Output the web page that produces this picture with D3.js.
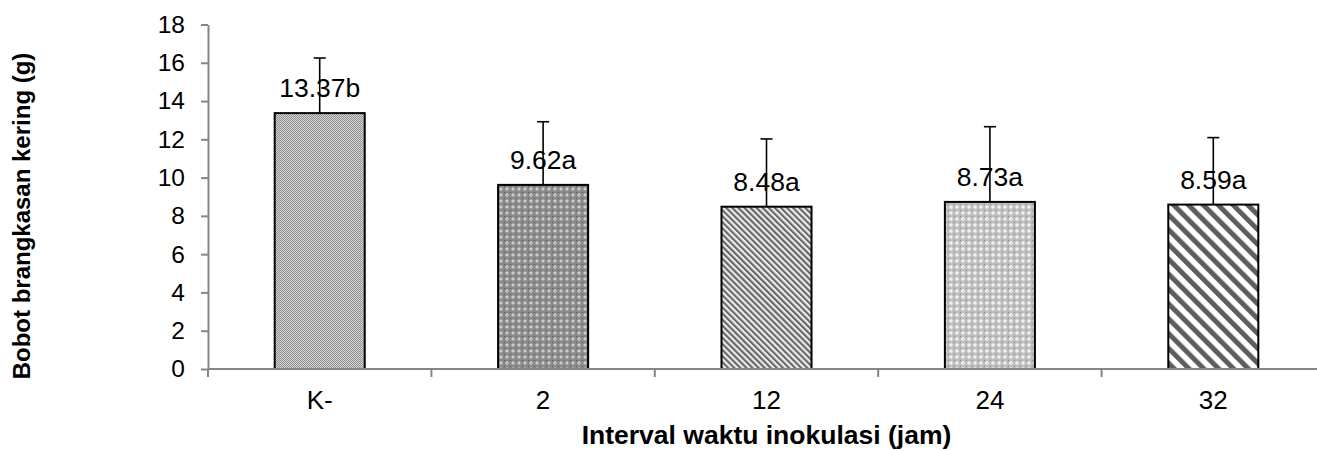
<!DOCTYPE html>
<html><head><meta charset="utf-8">
<script src="https://cdn.jsdelivr.net/npm/d3@7"></script>
<style>
html,body{margin:0;padding:0;background:#fff;}
svg{display:block;font-family:"Liberation Sans",Arial,sans-serif;}
</style></head>
<body>
<svg id="chart" width="1317" height="451"></svg>
<script>
const categories = ["K-", "2", "12", "24", "32"];
const means = [13.37, 9.62, 8.48, 8.73, 8.59];
const errors = [2.88, 3.30, 3.54, 3.93, 3.50];
const letters = ["b", "a", "a", "a", "a"];
const yTicks = [0, 2, 4, 6, 8, 10, 12, 14, 16, 18];
const xTitle = "Interval waktu inokulasi (jam)";
const yTitle = "Bobot brangkasan kering (g)";

(function () {
const svg = d3.select("#chart");
const mLeft = 208, mRight = 1325, mTop = 24.5, mBottom = 369;

const x = d3.scaleBand().domain(categories).range([mLeft, mRight])
  .paddingInner(0.597).paddingOuter(0.2985);
const y = d3.scaleLinear().domain([0, 18]).range([mBottom, mTop]);

// patterns
const defs = svg.append("defs");
let p = defs.append("pattern").attr("id", "pat0").attr("patternUnits", "userSpaceOnUse")
  .attr("width", 2).attr("height", 2);
p.append("rect").attr("width", 2).attr("height", 2).attr("fill", "#d6d6d6");
p.append("rect").attr("width", 1).attr("height", 1).attr("fill", "#8e8e8e");
p.append("rect").attr("x", 1).attr("y", 1).attr("width", 1).attr("height", 1).attr("fill", "#8e8e8e");
p = defs.append("pattern").attr("id", "pat1").attr("patternUnits", "userSpaceOnUse")
  .attr("width", 6).attr("height", 6);
p.append("rect").attr("width", 6).attr("height", 6).attr("fill", "#8a8a8a");
p.append("path").attr("d", "M3,1 L5,3 L3,5 L1,3 Z").attr("fill", "#c4c4c4");
p.append("rect").attr("x", 2.5).attr("y", 2.5).attr("width", 1).attr("height", 1).attr("fill", "#e8e8e8");
p.append("rect").attr("x", 0).attr("y", 0).attr("width", 1).attr("height", 1).attr("fill", "#555");
p = defs.append("pattern").attr("id", "pat2").attr("patternUnits", "userSpaceOnUse")
  .attr("width", 4.3).attr("height", 10).attr("patternTransform", "rotate(-45)");
p.append("rect").attr("width", 4.3).attr("height", 10).attr("fill", "#ececec");
p.append("rect").attr("width", 2.1).attr("height", 10).attr("fill", "#666");
p = defs.append("pattern").attr("id", "pat3").attr("patternUnits", "userSpaceOnUse")
  .attr("width", 6).attr("height", 6);
p.append("rect").attr("width", 6).attr("height", 6).attr("fill", "#bdbdbd");
p.append("path").attr("d", "M3,0.8 L5.2,3 L3,5.2 L0.8,3 Z").attr("fill", "#ececec");
p.append("rect").attr("x", 2.5).attr("y", 2.5).attr("width", 1).attr("height", 1).attr("fill", "#fff");
p.append("rect").attr("x", 0).attr("y", 0).attr("width", 1).attr("height", 1).attr("fill", "#8a8a8a");
p = defs.append("pattern").attr("id", "pat4").attr("patternUnits", "userSpaceOnUse")
  .attr("width", 10.5).attr("height", 10).attr("patternTransform", "rotate(-45)");
p.append("rect").attr("width", 10.5).attr("height", 10).attr("fill", "#ffffff");
p.append("rect").attr("width", 5).attr("height", 10).attr("fill", "#5e5e5e");

// bars
svg.append("g").selectAll("rect").data(categories).join("rect")
  .attr("x", d => x(d))
  .attr("y", (d, i) => y(means[i]))
  .attr("width", x.bandwidth())
  .attr("height", (d, i) => y(0) - y(means[i]))
  .attr("fill", (d, i) => `url(#pat${i})`)
  .attr("stroke", "#000").attr("stroke-width", 2);

// error bars
const eg = svg.append("g").attr("stroke", "#000").attr("stroke-width", 1.6);
categories.forEach((c, i) => {
  const cx = x(c) + x.bandwidth() / 2;
  eg.append("line").attr("x1", cx).attr("x2", cx)
    .attr("y1", y(means[i])).attr("y2", y(means[i] + errors[i]));
  eg.append("line").attr("x1", cx - 6).attr("x2", cx + 6)
    .attr("y1", y(means[i] + errors[i])).attr("y2", y(means[i] + errors[i]));
});

// axes
const axisColor = "#868686";
const yAxis = svg.append("g").attr("transform", `translate(${mLeft},0)`)
  .call(d3.axisLeft(y).tickValues(yTicks).tickSize(7).tickPadding(16).tickSizeOuter(0));
yAxis.select(".domain").attr("stroke", axisColor).attr("stroke-width", 2);
yAxis.selectAll(".tick line").attr("stroke", axisColor).attr("stroke-width", 2);
yAxis.selectAll(".tick text").attr("fill", "#000").attr("font-size", 24.5)
  .attr("font-family", "Liberation Sans, Arial, sans-serif");

const xg = svg.append("g");
xg.append("line").attr("x1", mLeft).attr("x2", mRight).attr("y1", y(0)).attr("y2", y(0))
  .attr("stroke", axisColor).attr("stroke-width", 2);
const step = x.step();
const boundaries = categories.map(c => x(c) - (step - x.bandwidth()) / 2);
xg.selectAll("line.tk").data(boundaries).join("line").attr("class", "tk")
  .attr("x1", d => d).attr("x2", d => d).attr("y1", y(0)).attr("y2", y(0) + 8)
  .attr("stroke", axisColor).attr("stroke-width", 2);
xg.selectAll("text").data(categories).join("text")
  .attr("x", d => x(d) + x.bandwidth() / 2).attr("y", 409)
  .attr("text-anchor", "middle").attr("font-size", 26).attr("fill", "#000")
  .text(d => d);

// data labels
svg.append("g").selectAll("text").data(categories).join("text")
  .attr("x", d => x(d) + x.bandwidth() / 2)
  .attr("y", (d, i) => y(means[i]) - 16)
  .attr("text-anchor", "middle").attr("font-size", 26.5).attr("fill", "#000")
  .text((d, i) => means[i].toFixed(2) + letters[i]);

// titles
svg.append("text").attr("x", x("12") + x.bandwidth() / 2).attr("y", 444)
  .attr("text-anchor", "middle").attr("font-size", 26.5).attr("font-weight", "bold")
  .attr("fill", "#000").text(xTitle);
svg.append("text").attr("transform", "translate(30,216) rotate(-90)")
  .attr("text-anchor", "middle").attr("font-size", 24).attr("font-weight", "bold")
  .attr("fill", "#000").text(yTitle);
})();
</script>
</body></html>
